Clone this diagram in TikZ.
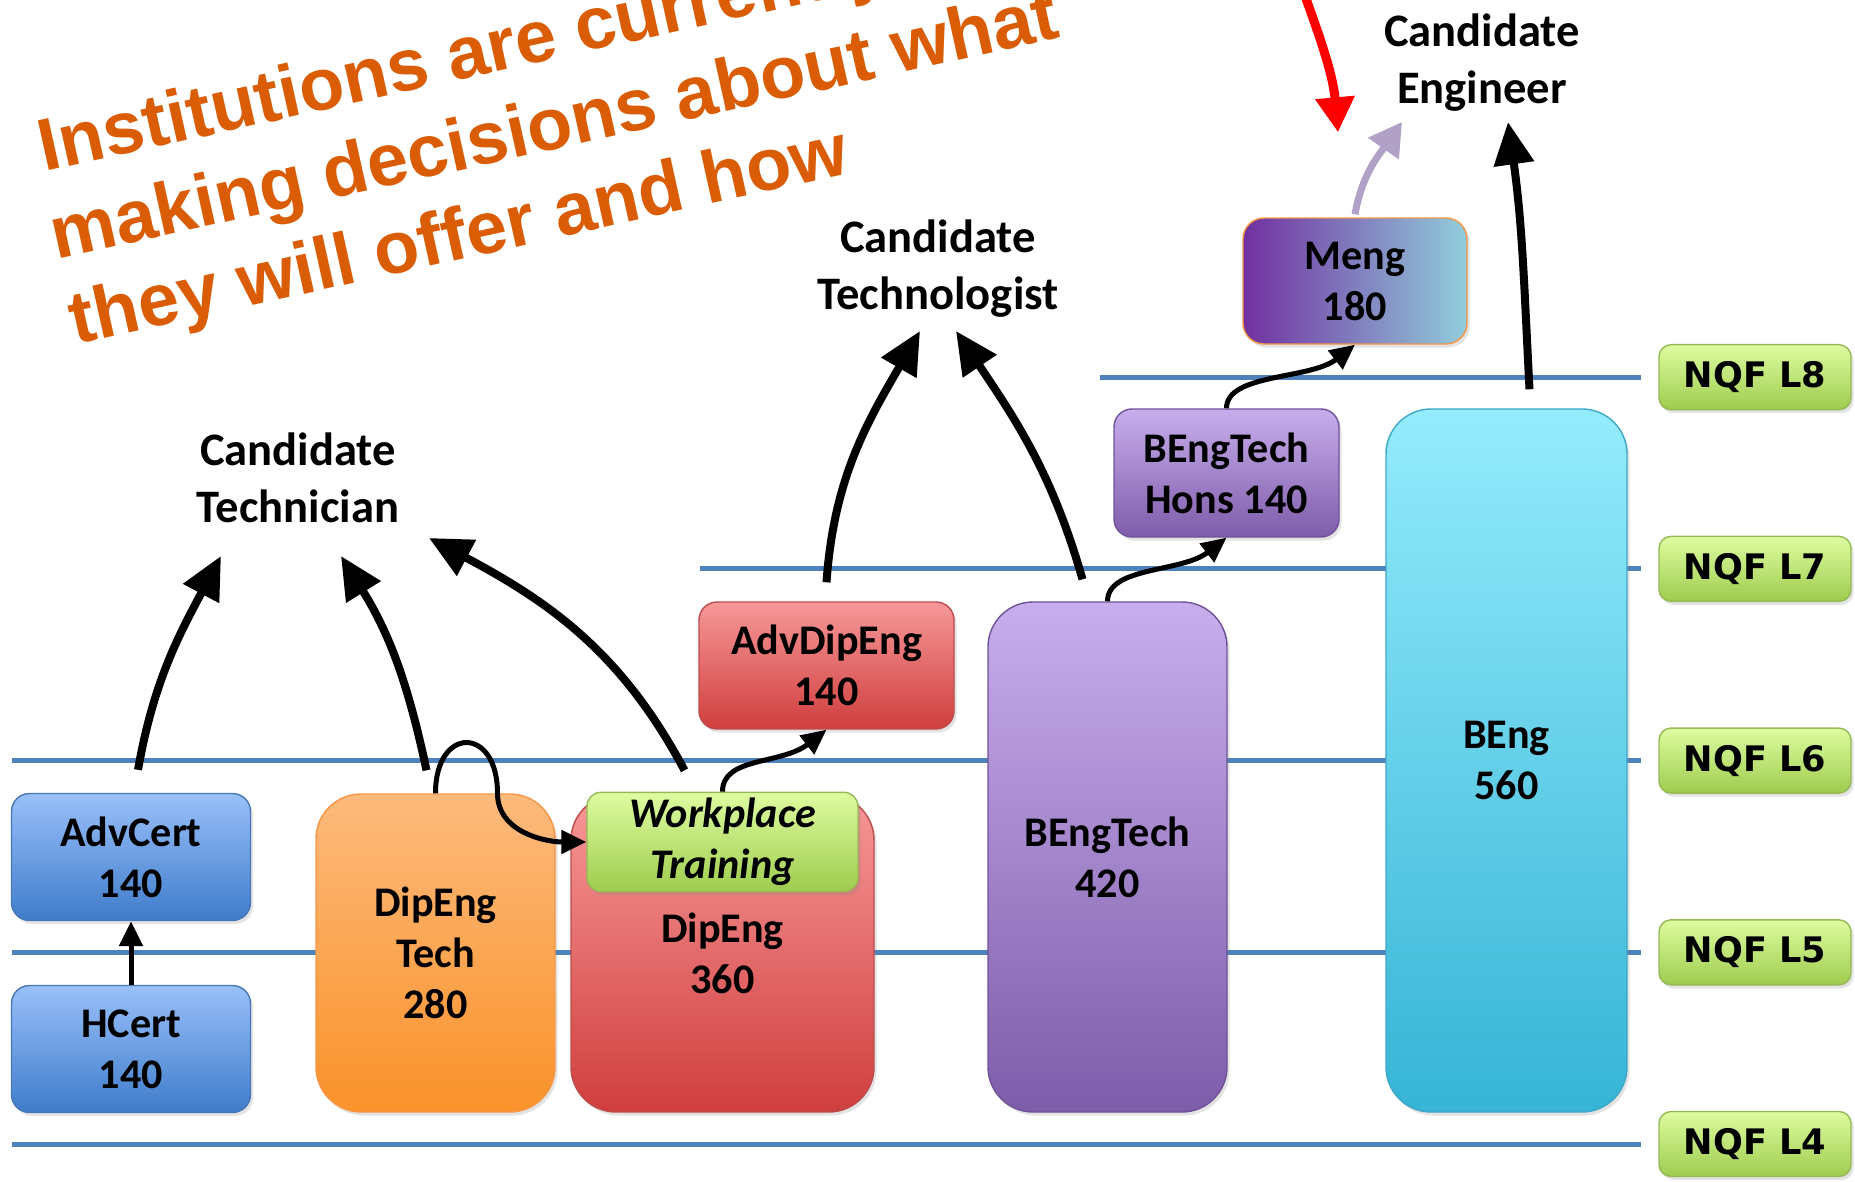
\documentclass[tikz,border=0pt]{standalone}
\usepackage{fontspec}
\setmainfont{Carlito}
\newfontfamily\nqffont{DejaVu Sans}
\newfontfamily\notefont{Liberation Sans}
\usetikzlibrary{arrows.meta,shadows}
\definecolor{LevelBlue}{RGB}{79,129,189}
\definecolor{BlueTop}{RGB}{153,192,250}
\definecolor{BlueBot}{RGB}{63,124,202}
\definecolor{BlueLine}{RGB}{72,118,182}
\definecolor{OrangeTop}{RGB}{252,186,124}
\definecolor{OrangeBot}{RGB}{250,146,42}
\definecolor{OrangeLine}{RGB}{247,150,70}
\definecolor{RedTop}{RGB}{247,152,152}
\definecolor{RedBot}{RGB}{208,62,62}
\definecolor{RedLine}{RGB}{190,75,75}
\definecolor{GreenTop}{RGB}{222,252,160}
\definecolor{GreenBot}{RGB}{158,204,78}
\definecolor{GreenLine}{RGB}{150,185,85}
\definecolor{PurpleTop}{RGB}{200,174,236}
\definecolor{PurpleBot}{RGB}{126,92,170}
\definecolor{PurpleLine}{RGB}{112,82,152}
\definecolor{CyanTop}{RGB}{148,236,252}
\definecolor{CyanBot}{RGB}{54,180,214}
\definecolor{CyanLine}{RGB}{62,168,200}
\definecolor{MengLeft}{RGB}{112,48,160}
\definecolor{MengRight}{RGB}{146,205,220}
\definecolor{Lavender}{RGB}{178,161,199}
\definecolor{NoteOrange}{RGB}{218,92,4}

\begin{document}
\begin{tikzpicture}[x=0.2mm,y=0.2mm,
  qual/.style={draw, line width=0.8pt, rounded corners=0.36cm, align=center,
    font=\fontsize{24}{29}\selectfont\bfseries,
    drop shadow={opacity=0.22, shadow xshift=0.05cm, shadow yshift=-0.07cm}},
  bluebox/.style={qual, top color=BlueTop, bottom color=BlueBot, draw=BlueLine},
  orangebox/.style={qual, top color=OrangeTop, bottom color=OrangeBot, draw=OrangeLine},
  redbox/.style={qual, top color=RedTop, bottom color=RedBot, draw=RedLine},
  greenbox/.style={qual, top color=GreenTop, bottom color=GreenBot, draw=GreenLine},
  purplebox/.style={qual, top color=PurpleTop, bottom color=PurpleBot, draw=PurpleLine},
  cyanbox/.style={qual, top color=CyanTop, bottom color=CyanBot, draw=CyanLine},
  nqf/.style={draw=GreenLine, line width=0.8pt, rounded corners=0.24cm,
    top color=GreenTop, bottom color=GreenBot, minimum width=3.84cm, minimum height=1.3cm,
    font=\nqffont\bfseries\fontsize{20}{24}\selectfont,
    drop shadow={opacity=0.22, shadow xshift=0.05cm, shadow yshift=-0.07cm}},
  level/.style={LevelBlue, line width=0.1cm},
  goal/.style={align=center, font=\fontsize{26.5}{32.4}\selectfont\bfseries},
  note/.style={rotate=12.5, inner sep=0, text=NoteOrange,
    font=\notefont\bfseries\fontsize{42}{50}\selectfont},
  bigarrow/.style={line width=0.16cm, -{Triangle[length=0.85cm,width=0.78cm]}},
  softarrow/.style={Lavender, line width=0.14cm, -{Triangle[length=0.65cm,width=0.72cm]}},
  redarrow/.style={red, line width=0.18cm, -{Triangle[length=0.7cm,width=0.75cm]}},
  link/.style={line width=0.1cm, -{Triangle[length=0.5cm,width=0.46cm]}}]
\useasboundingbox (0,0) rectangle (1855,-1182);
\clip (0,0) rectangle (1855,-1182);

% NQF levels
\foreach \lev/\xs in {4/12,5/12,6/12,7/700,8/1100}{
  \pgfmathsetmacro\ly{-1144+191.7*(\lev-4)}
  \node[nqf] (nqf\lev) at (1755,\ly) {NQF L\lev};
  \draw[level] (\xs,\ly) -- ([xshift=-0.34cm]nqf\lev.west);
}

% qualifications
\node[bluebox, minimum width=4.78cm, minimum height=2.54cm] (hcert) at (131,-1049) {HCert\\140};
\node[bluebox, minimum width=4.78cm, minimum height=2.54cm] (advcert) at (131,-857) {AdvCert\\140};
\node[orangebox, rounded corners=0.9cm, minimum width=4.78cm, minimum height=6.36cm] (dipengtech) at (435.5,-953) {DipEng\\Tech\\280};
\node[redbox, rounded corners=0.9cm, minimum width=6.06cm, minimum height=6.34cm] (dipeng) at (722.5,-953.5) {DipEng\\360};
\node[greenbox, rounded corners=0.28cm, minimum width=5.42cm, minimum height=1.92cm,
  font=\fontsize{24}{29}\selectfont\bfseries\itshape] (workplace) at (722.5,-842) {Workplace\\Training};
\node[redbox, minimum width=5.1cm, minimum height=2.54cm] (advdipeng) at (826.5,-665.5) {AdvDipEng\\140};
\node[purplebox, rounded corners=0.9cm, minimum width=4.78cm, minimum height=10.2cm] (bengtech) at (1107.5,-857) {BEngTech\\420};
\node[purplebox, minimum width=4.5cm, minimum height=2.56cm] (hons) at (1226.5,-473) {BEngTech\\Hons 140};
\node[qual, left color=MengLeft, right color=MengRight, draw=OrangeLine, rounded corners=0.42cm,
  minimum width=4.48cm, minimum height=2.52cm] (meng) at (1355,-281) {Meng\\180};
\node[cyanbox, rounded corners=0.9cm, minimum width=4.82cm, minimum height=14.06cm] (beng) at (1506.5,-760.5) {BEng\\560};

% registration categories
\node[goal] (techn) at (298,-478) {Candidate\\Technician};
\node[goal] (techl) at (938,-269) {Candidate\\Technologist};
\node[goal] (engr) at (1482,-63) {Candidate\\Engineer};

% progression
\draw[link] (hcert.north) -- (advcert.south);
\draw[link] (dipengtech.north) to[out=90,in=90,looseness=2.8] ++(62,0) to[out=-90,in=180] (workplace.west);
\draw[link] (workplace.north) .. controls +(0,35) and +(-45,-35) .. (advdipeng.south);
\draw[link] (bengtech.north) .. controls +(0,35) and +(-45,-35) .. (hons.south);
\draw[link] (hons.north) .. controls +(0,35) and +(-45,-35) .. (meng.south);

% routes to registration
\draw[bigarrow] ([shift={(7,23)}]advcert.north) to[out=80,in=-118] ([shift={(-77,-78)}]techn.center);
\draw[bigarrow] ([shift={(-9,23)}]dipengtech.north) to[out=102,in=-58] ([shift={(43,-78)}]techn.center);
\draw[bigarrow] ([shift={(-38,24)}]dipeng.north) to[out=118,in=-28] ([shift={(131,-60)}]techn.center);
\draw[bigarrow] ([yshift=0.38cm]advdipeng.north) to[out=86,in=-120] ([shift={(-18,-62)}]techl.center);
\draw[bigarrow] ([shift={(-25,22)}]bengtech.north) to[out=106,in=-56] ([shift={(18,-62)}]techl.center);
\draw[bigarrow] ([shift={(23,19)}]beng.north) to[out=93,in=-82] ([shift={(26,-59)}]engr.center);
\draw[softarrow] ([yshift=0.06cm]meng.north) to[out=80,in=-125] ([shift={(-80,-59)}]engr.center);
\coordinate (redsrc) at (1305,4);
\draw[redarrow] (redsrc) to[out=-70,in=95] ([shift={(-17,85)}]meng.north);

% message
\node[note, anchor=base west] (note1) at (44,-172) {Institutions are currently};
\node[note, anchor=base west] (note2) at (56,-260) {making decisions about what};
\node[note, anchor=base west] (note3) at (75,-345) {they will offer and how};
\end{tikzpicture}
\end{document}
